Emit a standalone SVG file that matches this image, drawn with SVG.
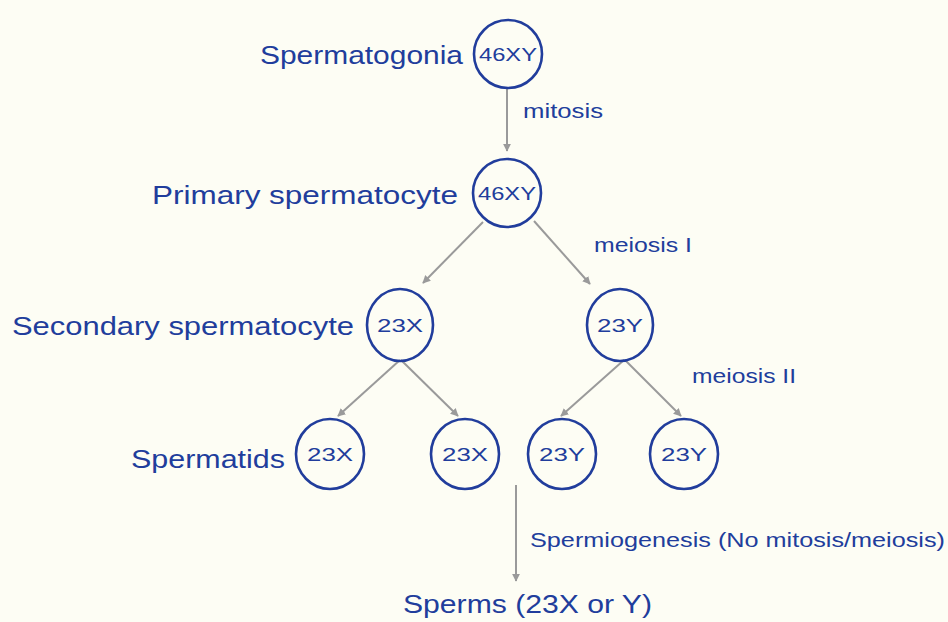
<svg xmlns="http://www.w3.org/2000/svg" width="948" height="622" viewBox="0 0 948 622">
<defs>
<style>
.bg{fill:#fdfdf4}
.cell{fill:none;stroke:#213d9c;stroke-width:2.6}
.lbl{font-family:"Liberation Sans","Open Sans",sans-serif;fill:#213d9c;font-size:26px}
.edge{font-family:"Liberation Sans","Open Sans",sans-serif;fill:#213d9c;font-size:21px}
.in{font-family:"Liberation Sans","Open Sans",sans-serif;fill:#213d9c;font-size:19px;text-anchor:middle}
.arr{fill:none;stroke:#9a9a9a;stroke-width:2;marker-end:url(#ah)}
</style>
<marker id="ah" viewBox="0 0 10 10" refX="9" refY="5" markerWidth="8" markerHeight="8" orient="auto" markerUnits="userSpaceOnUse">
<path d="M0,0 L10,5 L0,10 Z" fill="#9a9a9a"/>
</marker>
</defs>
<rect class="bg" x="0" y="0" width="948" height="622"/>
<g id="connectors">
<line class="arr" x1="507" y1="89" x2="507" y2="151"/>
<line class="arr" x1="483" y1="222" x2="423" y2="283"/>
<line class="arr" x1="534" y1="221" x2="590" y2="284"/>
<line class="arr" x1="400" y1="360" x2="338" y2="416"/>
<line class="arr" x1="401" y1="360" x2="458" y2="416"/>
<line class="arr" x1="624" y1="360" x2="561" y2="416"/>
<line class="arr" x1="625" y1="360" x2="681" y2="416"/>
<line class="arr" x1="516" y1="485" x2="516" y2="581"/>
<text class="edge" x="523" y="118" textLength="80" lengthAdjust="spacingAndGlyphs">mitosis</text>
<text class="edge" x="594" y="252" textLength="98" lengthAdjust="spacingAndGlyphs">meiosis I</text>
<text class="edge" x="692" y="383" textLength="104" lengthAdjust="spacingAndGlyphs">meiosis II</text>
<text class="edge" x="530" y="547" textLength="415" lengthAdjust="spacingAndGlyphs">Spermiogenesis (No mitosis/meiosis)</text>
</g>
<g id="spermatogonia">
<circle class="cell" cx="508" cy="54" r="34"/>
<text class="in" x="508" y="61" textLength="58" lengthAdjust="spacingAndGlyphs">46XY</text>
<text class="lbl" x="260" y="64" textLength="203" lengthAdjust="spacingAndGlyphs">Spermatogonia</text>
</g>
<g id="primary">
<circle class="cell" cx="507" cy="193" r="34"/>
<text class="in" x="507" y="200" textLength="58" lengthAdjust="spacingAndGlyphs">46XY</text>
<text class="lbl" x="152" y="204" textLength="306" lengthAdjust="spacingAndGlyphs">Primary spermatocyte</text>
</g>
<g id="secondary-x">
<ellipse class="cell" cx="400" cy="325" rx="33" ry="36"/>
<text class="in" x="400" y="332" textLength="46" lengthAdjust="spacingAndGlyphs">23X</text>
<text class="lbl" x="12" y="335" textLength="342" lengthAdjust="spacingAndGlyphs">Secondary spermatocyte</text>
</g>
<g id="secondary-y">
<ellipse class="cell" cx="620" cy="325" rx="33" ry="36"/>
<text class="in" x="620" y="332" textLength="46" lengthAdjust="spacingAndGlyphs">23Y</text>
</g>
<g id="spermatid-1">
<ellipse class="cell" cx="330" cy="454" rx="34" ry="35"/>
<text class="in" x="330" y="461" textLength="46" lengthAdjust="spacingAndGlyphs">23X</text>
<text class="lbl" x="131" y="468" textLength="154" lengthAdjust="spacingAndGlyphs">Spermatids</text>
</g>
<g id="spermatid-2">
<ellipse class="cell" cx="465" cy="454" rx="34" ry="35"/>
<text class="in" x="465" y="461" textLength="46" lengthAdjust="spacingAndGlyphs">23X</text>
</g>
<g id="spermatid-3">
<ellipse class="cell" cx="562" cy="454" rx="34" ry="35"/>
<text class="in" x="562" y="461" textLength="46" lengthAdjust="spacingAndGlyphs">23Y</text>
</g>
<g id="spermatid-4">
<ellipse class="cell" cx="684" cy="454" rx="34" ry="35"/>
<text class="in" x="684" y="461" textLength="46" lengthAdjust="spacingAndGlyphs">23Y</text>
</g>
<g id="sperms">
<text class="lbl" x="403" y="613" textLength="249" lengthAdjust="spacingAndGlyphs">Sperms (23X or Y)</text>
</g>
</svg>
